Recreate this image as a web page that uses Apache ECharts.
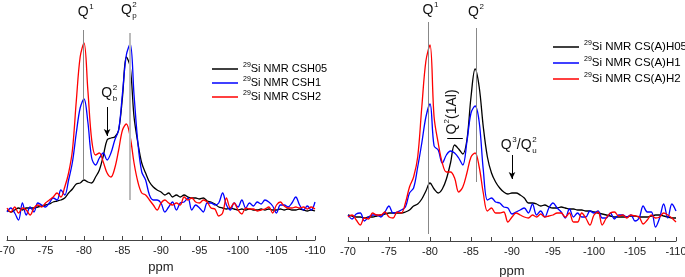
<!DOCTYPE html>
<html>
<head>
<meta charset="utf-8">
<script src="https://cdn.jsdelivr.net/npm/echarts@6/dist/echarts.min.js"></script>
<style>
  html, body { margin: 0; padding: 0; background: #fff; }
  #chart { width: 685px; height: 277px; }
</style>
</head>
<body>
<div id="chart"></div>
<script>
// chemical shift grid (ppm), read every 0.5 ppm
const ppm = [
  -70, -70.5, -71, -71.5, -72, -72.5, -73, -73.5, -74, -74.5,
  -75, -75.5, -76, -76.5, -77, -77.5, -78, -78.5, -79, -79.5,
  -80, -80.5, -81, -81.5, -82, -82.5, -83, -83.5, -84, -84.5,
  -85, -85.5, -86, -86.5, -87, -87.5, -88, -88.5, -89, -89.5,
  -90, -90.5, -91, -91.5, -92, -92.5, -93, -93.5, -94, -94.5,
  -95, -95.5, -96, -96.5, -97, -97.5, -98, -98.5, -99, -99.5,
  -100, -100.5, -101, -101.5, -102, -102.5, -103, -103.5, -104, -104.5,
  -105, -105.5, -106, -106.5, -107, -107.5, -108, -108.5, -109, -109.5,
  -110
]

// left panel: C-S-H
const csh05 = [
  30, 28, 30, 32, 30, 32, 32, 32, 33, 34,
  35, 36, 38, 39, 40, 42, 47, 51, 56, 57,
  60, 58, 57, 63, 70, 84, 100, 102, 103, 110,
  143, 183, 173, 123, 97, 77, 67, 58, 53, 50,
  48, 45, 47, 43, 45, 43, 45, 43, 42, 42,
  41, 42, 39, 38, 36, 33, 32, 31, 32, 31,
  30, 31, 30, 31, 30, 30, 31, 30, 31, 30,
  30, 31, 30, 31, 30, 30, 31, 30, 29, 30,
  29
]
const csh1 = [
  28, 32, 27, 20, 37, 25, 33, 28, 37, 35,
  33, 37, 42, 40, 50, 45, 60, 78, 107, 132,
  141, 118, 82, 75, 82, 87, 80, 87, 100, 110,
  147, 185, 196, 145, 97, 68, 60, 45, 40, 40,
  37, 28, 33, 38, 30, 37, 38, 42, 30, 35,
  32, 28, 37, 37, 35, 37, 47, 35, 30, 37,
  33, 40, 32, 37, 34, 38, 36, 40, 38, 34,
  27, 35, 35, 33, 37, 43, 35, 30, 34, 30,
  38
]
const csh2 = [
  32, 28, 33, 27, 32, 30, 25, 32, 35, 33,
  37, 40, 43, 47, 43, 53, 67, 90, 139, 183,
  197, 150, 100, 85, 87, 78, 67, 63, 72, 90,
  110, 116, 103, 77, 58, 47, 45, 40, 35, 30,
  37, 40, 37, 35, 37, 35, 43, 40, 42, 38,
  37, 40, 38, 32, 31, 24, 27, 42, 32, 37,
  30, 26, 32, 31, 31, 29, 30, 31, 33, 27,
  35, 38, 34, 32, 32, 33, 32, 33, 31, 33,
  31
]

// right panel: C-(A)-S-H
const csah05 = [
  26, 25, 24, 24, 23, 24, 24, 25, 26, 27,
  28, 28, 28, 28, 29, 31, 35, 37, 42, 50,
  58, 52, 48, 52, 62, 78, 96, 92, 87, 101,
  144, 172, 154, 114, 84, 68, 59, 53, 49, 47,
  48, 48, 46, 43, 38, 38, 37, 35, 36, 34,
  33, 33, 34, 33, 32, 32, 31, 31, 30, 30,
  29, 28, 27, 26, 25, 24, 24, 24, 24, 25,
  25, 24, 24, 24, 25, 26, 26, 25, 24, 23,
  23
]
const csah1 = [
  26, 22, 27, 28, 20, 24, 26, 26, 24, 29,
  35, 28, 29, 31, 34, 48, 53, 74, 98, 124,
  137, 95, 91, 78, 86, 90, 88, 83, 76, 99,
  128, 135, 119, 71, 41, 43, 39, 38, 34, 33,
  27, 29, 31, 33, 28, 37, 26, 30, 24, 33,
  38, 33, 29, 23, 32, 24, 28, 24, 24, 30,
  28, 30, 23, 23, 28, 22, 26, 26, 24, 26,
  20, 23, 35, 29, 29, 14, 23, 37, 23, 37,
  30
]
const csah2 = [
  24, 26, 21, 16, 23, 22, 28, 26, 26, 29,
  24, 23, 29, 28, 38, 54, 64, 84, 134, 180,
  196, 124, 98, 78, 69, 69, 63, 49, 54, 68,
  84, 88, 74, 48, 30, 33, 28, 28, 29, 19,
  24, 28, 26, 24, 23, 26, 24, 27, 24, 25,
  26, 28, 28, 24, 28, 19, 19, 28, 23, 16,
  26, 29, 16, 23, 28, 29, 25, 26, 23, 26,
  25, 24, 17, 21, 26, 23, 24, 28, 26, 23,
  19
]

const leftNames = ['Si NMR CSH05', 'Si NMR CSH1', 'Si NMR CSH2']
const rightNames = ['Si NMR CS(A)H05', 'Si NMR CS(A)H1', 'Si NMR CS(A)H2']
const colors = ['#000000', '#0000ff', '#ff0000']

const FONT = 'Liberation Sans'

var myChart = echarts.init(document.getElementById('chart'))

function pairs(vals) {
  return ppm.map(function (p, i) { return [p, vals[i]] })
}

function xAxisFor(grid, nameGap) {
  return {
    type: 'value',
    gridIndex: grid,
    inverse: true,
    min: -110,
    max: -70,
    interval: 5,
    name: 'ppm',
    nameLocation: 'middle',
    nameGap: nameGap,
    nameTextStyle: { fontSize: 13, color: '#222', fontFamily: FONT },
    axisLine: { onZero: false, lineStyle: { color: '#444', width: 1 } },
    axisTick: { show: true, inside: true, length: 4, lineStyle: { color: '#444' } },
    minorTick: { show: true, splitNumber: 2, length: 4, lineStyle: { color: '#444' } },
    axisLabel: { fontSize: 11, color: '#222', margin: 5, fontFamily: FONT },
    splitLine: { show: false },
  }
}

function yAxisFor(grid) {
  return { type: 'value', gridIndex: grid, min: 0, max: 220, show: false }
}

// guide line / arrow segment in data units
function seg(x1, y1, x2, y2, color, width, arrow) {
  return [
    {
      coord: [x1, y1],
      symbol: 'none',
      lineStyle: { color: color, width: width, type: 'solid' },
    },
    { coord: [x2, y2], symbol: arrow ? 'arrow' : 'none', symbolSize: [5, 7] },
  ]
}

function lineSeries(name, vals, color, grid, marks) {
  var s = {
    name: name,
    type: 'line',
    xAxisIndex: grid,
    yAxisIndex: grid,
    data: pairs(vals),
    showSymbol: false,
    smooth: 0.35,
    lineStyle: { color: color, width: 1.3 },
    itemStyle: { color: color },
    animation: false,
  }
  if (marks) {
    s.markLine = {
      silent: true,
      animation: false,
      symbol: 'none',
      label: { show: false },
      emphasis: { disabled: true },
      data: marks,
    }
  }
  return s
}

function legendFor(names, left, top, gap, size) {
  return {
    data: names,
    orient: 'vertical',
    left: left,
    top: top,
    icon: 'rect',
    itemWidth: 26,
    itemHeight: 1.5,
    itemGap: gap,
    selectedMode: false,
    formatter: function (n) { return '{s|29}{t|' + n + '}' },
    textStyle: {
      color: '#000',
      fontFamily: FONT,
      overflow: 'none',
      rich: {
        s: { fontSize: 7, lineHeight: 14, verticalAlign: 'top', fontFamily: FONT },
        t: { fontSize: size, lineHeight: 14, fontFamily: FONT },
      },
    },
  }
}

var option = {
  backgroundColor: '#fff',
  textStyle: { fontFamily: FONT },
  grid: [
    { left: 7, right: 370, top: 20, bottom: 37, outerBoundsMode: 'none' },
    { left: 348, right: 9, top: 21, bottom: 36, outerBoundsMode: 'none' },
  ],
  xAxis: [xAxisFor(0, 20), xAxisFor(1, 24)],
  yAxis: [yAxisFor(0), yAxisFor(1)],
  legend: [
    legendFor(leftNames, 207, 57, 1.5, 11),
    legendFor(rightNames, 548, 35, 3, 11.5),
  ],
  series: [
    lineSeries(leftNames[0], csh05, colors[0], 0, [
      seg(-79.9, 61, -79.9, 210, '#888', 1),
      seg(-85.9, 40, -85.9, 207, '#bbb', 2),
      seg(-83, 133, -83, 104, '#000', 1, true),
    ]),
    lineSeries(leftNames[1], csh1, colors[1], 0),
    lineSeries(leftNames[2], csh2, colors[2], 0),
    lineSeries(rightNames[0], csah05, colors[0], 1, [
      seg(-79.8, 7, -79.8, 219, '#888', 1),
      seg(-85.6, 59, -85.6, 213, '#888', 1),
      seg(-90, 86, -90, 62, '#000', 1, true),
      seg(-82.1, 103, -84.0, 103, '#000', 1),
    ]),
    lineSeries(rightNames[1], csah1, colors[1], 1),
    lineSeries(rightNames[2], csah2, colors[2], 1),
  ],
}

myChart.setOption(option)

// peak labels (Q^n with super/subscripts), placed in data units
function t(x, y, s, size, align) {
  return {
    type: 'text',
    x: x,
    y: y,
    style: {
      text: s,
      font: size + 'px "' + FONT + '"',
      fill: '#111',
      align: align || 'left',
      verticalAlign: 'middle',
    },
  }
}

function qMark(grid, x, y, sup, sub) {
  var p = myChart.convertToPixel({ gridIndex: grid }, [x, y])
  var kids = [t(0, 0, 'Q', 14, 'center')]
  if (sup) kids.push(t(6, -5, sup, 8))
  if (sub) kids.push(t(6, 6, sub, 8))
  return { type: 'group', x: p[0], y: p[1], silent: true, children: kids }
}

var p3 = myChart.convertToPixel({ gridIndex: 1 }, [-89.3, 96])
var pAl = myChart.convertToPixel({ gridIndex: 1 }, [-82.7, 129])

myChart.setOption({
  graphic: [
    qMark(0, -79.9, 228, '1'),
    qMark(0, -85.5, 230, '2', 'p'),
    qMark(0, -82.96, 147, '2', 'b'),
    qMark(1, -79.75, 231, '1'),
    qMark(1, -85.3, 229, '2'),
    {
      type: 'group', x: p3[0], y: p3[1], silent: true,
      children: [
        t(0, 0, 'Q', 14, 'center'),
        t(6, -5, '3', 8),
        t(10.5, 0, '/Q', 14),
        t(26, -5, '2', 8),
        t(26, 6, 'u', 8),
      ],
    },
    {
      type: 'group', x: pAl[0], y: pAl[1], rotation: Math.PI / 2, silent: true,
      children: [
        t(-17, 0, 'Q', 14, 'center'),
        t(-11.5, -5, '2', 8),
        t(-7, 0, '(1Al)', 14),
      ],
    },
  ],
})
</script>
</body>
</html>
